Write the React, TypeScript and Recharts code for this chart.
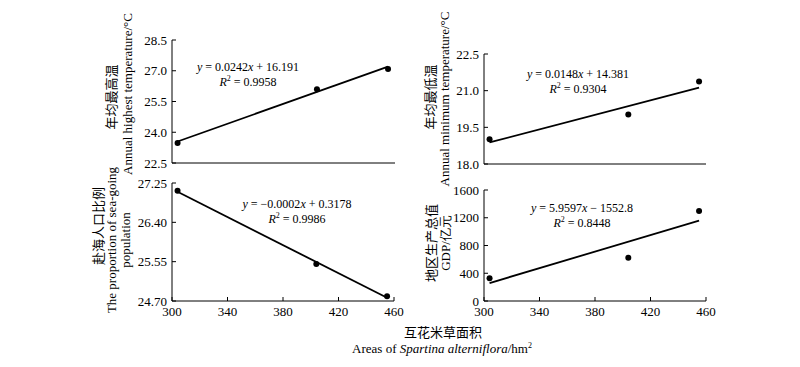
import React from 'react';
import { ScatterChart, Scatter, XAxis, YAxis } from 'recharts';

// areas of Spartina alterniflora (hm2), shared by all four panels
const areas = [304, 404, 455];
const highTemp = [23.48, 26.1, 27.09];
const lowTemp = [19.01, 20.03, 21.37];
const seaPop = [27.08, 25.5, 24.8];
const gdp = [327, 624, 1297];

// fitted line end points
const trendX = [304, 455];
const highTrend = [23.55, 27.2];
const lowTrend = [18.88, 21.12];
const seaTrend = [27.06, 24.77];
const gdpTrend = [259, 1159];

const xTicks = [300, 340, 380, 420, 460];
const highTicks = [22.5, 24, 25.5, 27, 28.5];
const lowTicks = [18, 19.5, 21, 22.5];
const seaTicks = [24.7, 25.55, 26.4, 27.25];
const gdpTicks = [0, 400, 800, 1200, 1600];

const SERIF = '"Liberation Serif", "Times New Roman", serif';
const CJK = '"Noto Sans CJK SC", sans-serif';

const toPoints = (xs: number[], ys: number[]) => xs.map((x, i) => ({ x, y: ys[i] }));

const Dot = (p: any) => <circle cx={p.cx} cy={p.cy} r={3} fill="#000" />;
const NoDot = () => <g />;

type PanelProps = {
  left: number;
  top: number;
  plotW: number;
  plotH: number;
  yTicks: number[];
  yFmt: (v: number) => string;
  values: number[];
  trend: number[];
  xLabels: boolean;
};

const Panel: React.FC<PanelProps> = ({ left, top, plotW, plotH, yTicks, yFmt, values, trend, xLabels }) => {
  const axisW = 40;
  const m = { top: 10, right: 10, bottom: 0, left: 0 };
  const xH = 25;
  const width = axisW + plotW + m.right;
  const height = m.top + plotH + xH;
  const tickStyle = { fill: '#000', fontSize: 13, fontFamily: SERIF };
  return (
    <div style={{ position: 'absolute', left: left - axisW, top: top - m.top, width, height }}>
      <ScatterChart width={width} height={height} margin={m}>
        <XAxis
          type="number"
          dataKey="x"
          domain={[300, 460]}
          ticks={xTicks}
          interval={0}
          height={xH}
          axisLine={{ stroke: '#000' }}
          tickLine={{ stroke: '#000' }}
          tickSize={-4}
          tickMargin={10}
          tick={xLabels ? tickStyle : false}
          allowDataOverflow
        />
        <YAxis
          type="number"
          dataKey="y"
          domain={[yTicks[0], yTicks[yTicks.length - 1]]}
          ticks={yTicks}
          interval={0}
          width={axisW}
          axisLine={{ stroke: '#000' }}
          tickLine={{ stroke: '#000' }}
          tickSize={-4}
          tickMargin={9}
          tick={tickStyle}
          tickFormatter={yFmt}
          allowDataOverflow
        />
        <Scatter
          data={toPoints(trendX, trend)}
          line={{ stroke: '#000', strokeWidth: 1.8 }}
          shape={NoDot}
          isAnimationActive={false}
        />
        <Scatter data={toPoints(areas, values)} shape={Dot} isAnimationActive={false} />
      </ScatterChart>
    </div>
  );
};

const VLabel = ({ x, y, children, font = SERIF, size = 13 }: any) => (
  <text
    transform={`translate(${x},${y}) rotate(-90)`}
    textAnchor="middle"
    dominantBaseline="central"
    fontSize={size}
    fontFamily={font}
    fill="#000"
  >
    {children}
  </text>
);

const Equation = ({ x, y, body, r2 }: { x: number; y: number; body: React.ReactNode; r2: string }) => (
  <g fontFamily={SERIF} fontSize={12} fill="#000" textAnchor="middle">
    <text x={x} y={y}>
      <tspan fontStyle="italic">y</tspan>
      {body}
    </text>
    <text x={x} y={y + 14.5}>
      <tspan fontStyle="italic">R</tspan>
      <tspan dy={-5} fontSize={8}>2</tspan>
      <tspan dy={5}> = {r2}</tspan>
    </text>
  </g>
);

const App: React.FC = () => {
  return (
    <div style={{ position: 'absolute', left: 0, top: 0, width: 800, height: 367, background: '#fff' }}>
      <Panel left={172} top={40} plotW={223} plotH={123} yTicks={highTicks} yFmt={(v) => v.toFixed(1)} values={highTemp} trend={highTrend} xLabels={false} />
      <Panel left={484} top={54} plotW={222} plotH={110} yTicks={lowTicks} yFmt={(v) => v.toFixed(1)} values={lowTemp} trend={lowTrend} xLabels={false} />
      <Panel left={172} top={183} plotW={222} plotH={118} yTicks={seaTicks} yFmt={(v) => v.toFixed(2)} values={seaPop} trend={seaTrend} xLabels />
      <Panel left={484} top={190} plotW={222} plotH={111} yTicks={gdpTicks} yFmt={(v) => String(v)} values={gdp} trend={gdpTrend} xLabels />

      <svg width={800} height={367} style={{ position: 'absolute', left: 0, top: 0, pointerEvents: 'none' }}>
        <VLabel x={110} y={97} font={CJK}>年均最高温</VLabel>
        <VLabel x={127} y={94}>Annual highest temperature/°C</VLabel>

        <VLabel x={429} y={97} font={CJK}>年均最低温</VLabel>
        <VLabel x={444} y={99}>Annual minimum temperature/°C</VLabel>

        <VLabel x={97} y={226} font={CJK}>赴海人口比例</VLabel>
        <VLabel x={111} y={240}>The proportion of sea-going</VLabel>
        <VLabel x={125} y={240}>population</VLabel>

        <VLabel x={430} y={243} font={CJK}>地区生产总值</VLabel>
        <VLabel x={445} y={243}>GDP/亿元</VLabel>

        <Equation x={248} y={71} body={<> = 0.0242<tspan fontStyle="italic">x</tspan> + 16.191</>} r2="0.9958" />
        <Equation x={578} y={78} body={<> = 0.0148<tspan fontStyle="italic">x</tspan> + 14.381</>} r2="0.9304" />
        <Equation x={297} y={208} body={<> = −0.0002<tspan fontStyle="italic">x</tspan> + 0.3178</>} r2="0.9986" />
        <Equation x={582} y={212} body={<> = 5.9597<tspan fontStyle="italic">x</tspan> − 1552.8</>} r2="0.8448" />

        <text x={443} y={337} textAnchor="middle" fontSize={13} fontFamily={CJK} fill="#000">
          互花米草面积
        </text>
        <text x={442} y={353} textAnchor="middle" fontSize={13} fontFamily={SERIF} fill="#000">
          Areas of <tspan fontStyle="italic">Spartina alterniflora</tspan>/hm
          <tspan dy={-5} fontSize={8}>2</tspan>
        </text>
      </svg>
    </div>
  );
};

export default App;
